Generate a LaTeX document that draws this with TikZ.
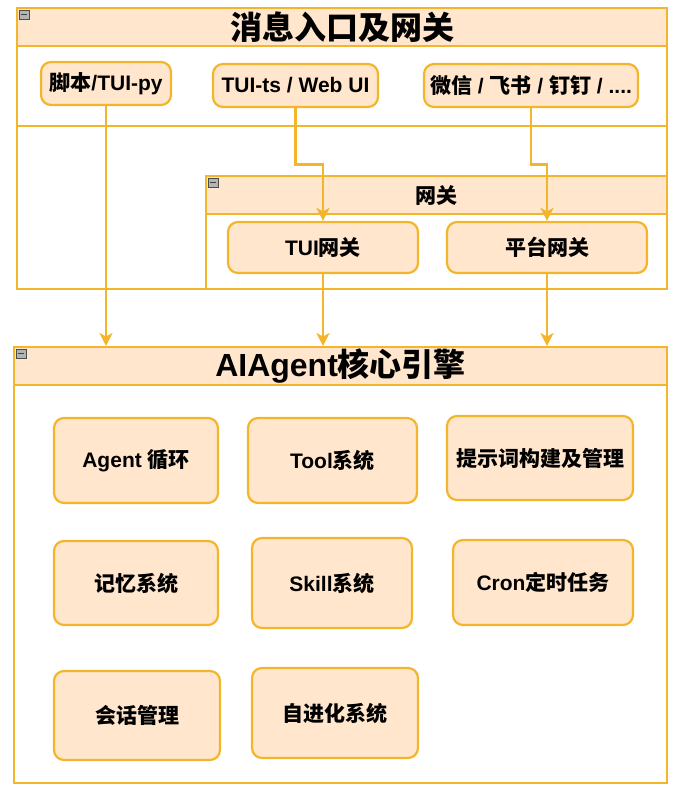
\documentclass[tikz,border=0pt]{standalone}
\usepackage{fontspec}
\setmainfont{Liberation Sans}
\newfontfamily\zh{Noto Sans CJK SC}
\usetikzlibrary{arrows.meta,calc}

\definecolor{laneline}{HTML}{F2B52C}
\definecolor{peach}{HTML}{FFE6CC}
\definecolor{icongray}{HTML}{B4B4B4}

\tikzset{
  pool/.style={draw=laneline, line width=2.2pt, anchor=north west, inner sep=0pt},
  poolhead/.style={pool, fill=peach, font=\bfseries\fontsize{32}{36}\selectfont},
  box/.style={draw=laneline, fill=peach, line width=2.2pt, rounded corners=10pt,
    inner sep=0pt, font=\bfseries\fontsize{21}{25}\selectfont},
  flow/.style={draw=laneline, line width=2.2pt,
    -{Stealth[length=13pt,width=13pt,inset=3.5pt]}}
}

\newcommand{\foldicon}[2]{%
  \draw[gray!60!black, fill=icongray, line width=0.8pt] (#1,#2) rectangle ++(10,9);
  \draw[black!75, line width=1.3pt] (#1+2,#2+4.5) -- ++(6,0);}

\begin{document}
\begin{tikzpicture}[x=1pt,y=-1pt]
\useasboundingbox (0,0) rectangle (678,790);

% we draw the entry pool
\node (entry) [pool, minimum width=650pt, minimum height=281pt] at (16,7) {};
\node (entrylane) [pool, minimum width=650pt, minimum height=80pt] at (16,45) {};
\node (entryhead) [poolhead, minimum width=650pt, minimum height=38pt] at (16,7) {\zh 消息入口及网关};
\foldicon{19}{10}

% the gateway pool
\node (gw) [pool, minimum width=461pt, minimum height=113pt] at (205,175) {};
\node (gwhead) [poolhead, minimum width=461pt, minimum height=38pt,
  font=\bfseries\fontsize{21}{25}\selectfont] at (205,175) {\zh 网关};
\foldicon{208}{178}

% the core pool
\node (core) [pool, minimum width=653pt, minimum height=436pt] at (13,346) {};
\node (corehead) [poolhead, minimum width=653pt, minimum height=38pt] at (13,346) {AIAgent{\zh 核心引擎}};
\foldicon{16}{349}

% entries
\node (py) [box, minimum width=130pt, minimum height=43pt] at (106,83.5) {{\zh 脚本}/TUI-py};
\node (ts) [box, minimum width=165pt, minimum height=43pt] at (295.5,85.5) {TUI-ts / Web UI};
\node (im) [box, minimum width=214pt, minimum height=43pt] at (531,85.5) {{\zh 微信} / {\zh 飞书} / {\zh 钉钉} / ....};

% gateways
\node (tuigw) [box, minimum width=190pt, minimum height=51pt] at (323,247.5) {TUI{\zh 网关}};
\node (platgw) [box, minimum width=200pt, minimum height=51pt] at (547,247.5) {\zh 平台网关};

% core modules
\node (loop) [box, minimum width=164pt, minimum height=85pt] at (136,460.5) {Agent {\zh 循环}};
\node (tool) [box, minimum width=169pt, minimum height=85pt] at (332.5,460.5) {Tool{\zh 系统}};
\node (prompt) [box, minimum width=186pt, minimum height=84pt] at (540,458) {\zh 提示词构建及管理};
\node (memory) [box, minimum width=164pt, minimum height=84pt] at (136,583) {\zh 记忆系统};
\node (skill) [box, minimum width=160pt, minimum height=90pt] at (332,583) {Skill{\zh 系统}};
\node (cron) [box, minimum width=180pt, minimum height=85pt] at (543,582.5) {Cron{\zh 定时任务}};
\node (session) [box, minimum width=166pt, minimum height=89pt] at (137,715.5) {\zh 会话管理};
\node (evolve) [box, minimum width=166pt, minimum height=90pt] at (335,713) {\zh 自进化系统};

% we add the arrows
\draw[flow] (py.south) -- (py.south |- core.north);
\draw[flow] (ts.south) |- ($(ts.south)!.5!(tuigw.north)$) -| (tuigw.north);
\draw[flow] (im.south) |- ($(im.south)!.5!(platgw.north)$) -| (platgw.north);
\draw[flow] (tuigw.south) -- (tuigw.south |- core.north);
\draw[flow] (platgw.south) -- (platgw.south |- core.north);

\end{tikzpicture}
\end{document}
